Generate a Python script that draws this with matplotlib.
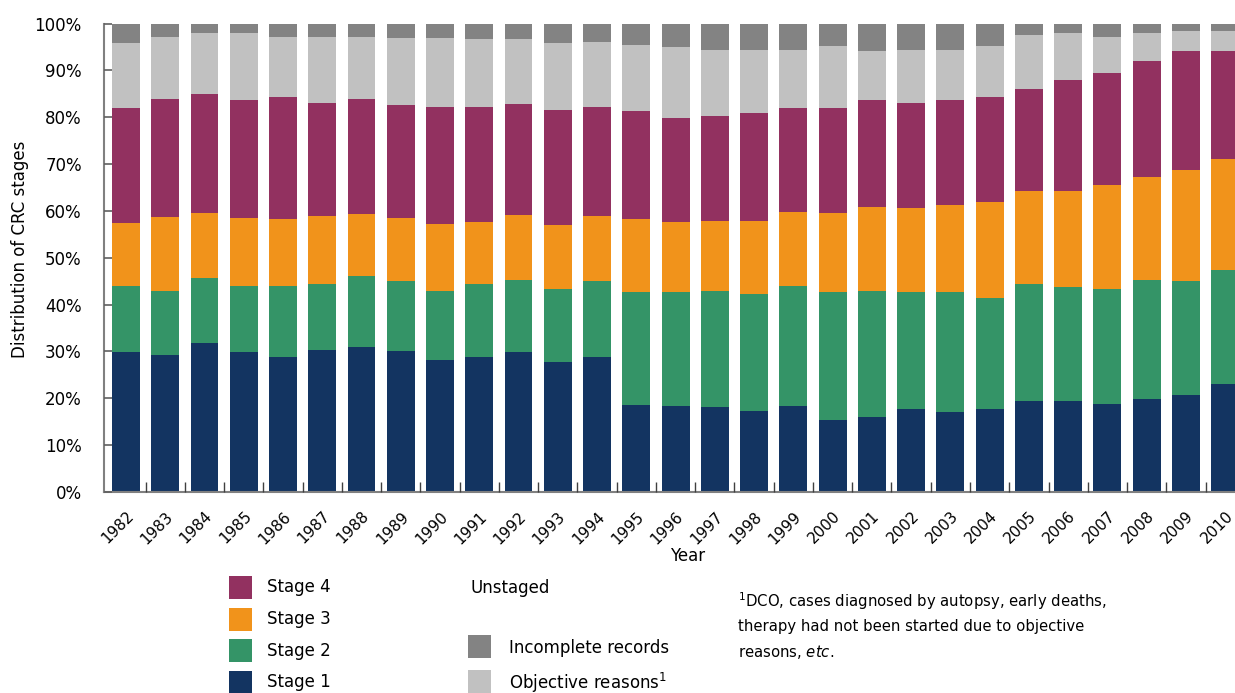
import matplotlib
matplotlib.use("Agg")
import matplotlib.pyplot as plt
from matplotlib.patches import Rectangle
from matplotlib.transforms import ScaledTranslation
import numpy as np

years = [str(y) for y in range(1982, 2011)]

stage1 = [29.8, 29.3, 31.7, 29.8, 28.9, 30.4, 31.0, 30.2, 28.1, 28.9, 29.8, 27.8, 28.9,
          18.6, 18.4, 18.2, 17.3, 18.4, 15.4, 16.1, 17.8, 17.1, 17.8,
          19.5, 19.5, 18.8, 19.9, 20.8, 23.1]
stage2 = [14.1, 13.7, 13.9, 14.1, 15.0, 14.1, 15.0, 14.8, 14.7, 15.4, 15.4, 15.5, 16.1,
          24.0, 24.2, 24.6, 24.9, 25.5, 27.2, 26.7, 24.8, 25.5, 23.7,
          25.0, 24.2, 24.5, 25.3, 24.2, 24.2]
stage3 = [13.5, 15.7, 13.9, 14.6, 14.3, 14.4, 13.3, 13.5, 14.4, 13.3, 13.9, 13.7, 13.9,
          15.6, 15.0, 15.0, 15.6, 15.8, 16.9, 18.0, 18.0, 18.6, 20.4,
          19.7, 20.5, 22.2, 22.0, 23.7, 23.8]
stage4 = [24.6, 25.2, 25.5, 25.2, 26.2, 24.2, 24.6, 24.2, 25.0, 24.6, 23.8, 24.6, 23.3,
          23.2, 22.3, 22.5, 23.1, 22.3, 22.5, 22.9, 22.5, 22.5, 22.5,
          21.9, 23.8, 24.0, 24.7, 25.5, 23.1]
objective = [13.9, 13.3, 12.9, 14.2, 12.8, 14.1, 13.3, 14.1, 14.6, 14.4, 13.7, 14.3, 13.9,
             14.1, 15.0, 14.1, 13.5, 12.4, 13.1, 10.5, 11.3, 10.7, 10.7,
             11.5, 9.9, 7.7, 6.0, 4.3, 4.1]
incomplete = [4.1, 2.8, 2.1, 2.1, 2.8, 2.8, 2.8, 3.2, 3.2, 3.4, 3.4, 4.1, 3.9,
              4.5, 5.1, 5.6, 5.6, 5.6, 4.9, 5.8, 5.6, 5.6, 4.9,
              2.4, 2.1, 2.8, 2.1, 1.5, 1.7]

series = [stage1, stage2, stage3, stage4, objective, incomplete]
colors = ['#133461', '#349467', '#F1931B', '#923160', '#C1C1C1', '#838383']

W, H = 1235, 693
fig = plt.figure(figsize=(W / 100, H / 100), dpi=100)
plt.rcParams['font.family'] = ['DejaVu Sans']

ax = fig.add_axes([104 / W, 1 - 492 / H, (W - 104) / W, (492 - 23.5) / H])
x = np.arange(len(years))
bottom = np.zeros(len(years))
for vals, c in zip(series, colors):
    v = np.array(vals)
    ax.bar(x, v, bottom=bottom, width=0.71, color=c, linewidth=0)
    bottom += v

ax.set_xlim(-0.56, 28.25)
ax.set_ylim(0, 100)
ax.set_yticks(np.arange(0, 101, 10))
ax.set_yticklabels([f"{t}%" for t in range(0, 101, 10)], fontsize=12)
ax.set_xticks(x)
ax.set_xticklabels(years, rotation=45, ha='right', rotation_mode='anchor', fontsize=11)
shift = ScaledTranslation(-4 / 100, 0, fig.dpi_scale_trans)
for lab in ax.get_xticklabels():
    lab.set_transform(lab.get_transform() + shift)
ax.set_xticks(x[:-1] + 0.5, minor=True)
ax.tick_params(axis='x', which='major', length=0, pad=12)
ax.tick_params(axis='x', which='minor', length=7, direction='in', color='#404040', width=1)
ax.tick_params(axis='y', which='major', length=6, direction='in', color='#606060', width=1.2, pad=16)
for s in ['top', 'right']:
    ax.spines[s].set_visible(False)
for s in ['left', 'bottom']:
    ax.spines[s].set_color('#808080')
    ax.spines[s].set_linewidth(1.5)
ax.set_axisbelow(False)

fig.text(20 / W, 1 - 249 / H, 'Distribution of CRC stages', rotation=90,
         ha='center', va='center', fontsize=12)
fig.text(688 / W, 1 - 556 / H, 'Year', ha='center', va='center', fontsize=12)

def patch(x0, y0, w, h, c):
    fig.add_artist(Rectangle((x0 / W, 1 - (y0 + h) / H), w / W, h / H,
                             transform=fig.transFigure, color=c, linewidth=0))

stage_labels = ['Stage 4', 'Stage 3', 'Stage 2', 'Stage 1']
stage_cols = [colors[3], colors[2], colors[1], colors[0]]
for i, (lab, c) in enumerate(zip(stage_labels, stage_cols)):
    y0 = 576 + i * 31.5
    patch(229, y0, 23, 23, c)
    fig.text(267 / W, 1 - (y0 + 11.5) / H, lab, ha='left', va='center', fontsize=12)

fig.text(470 / W, 1 - 588 / H, 'Unstaged', ha='left', va='center', fontsize=12)
patch(468, 635, 23, 23, colors[5])
fig.text(509 / W, 1 - 648 / H, 'Incomplete records', ha='left', va='center', fontsize=12)
patch(468, 670, 23, 23, colors[4])
fig.text(509 / W, 1 - 683 / H, 'Objective reasons$^{1}$', ha='left', va='center', fontsize=12)

fn = ['$^{1}$DCO, cases diagnosed by autopsy, early deaths,',
      'therapy had not been started due to objective',
      'reasons, $\\mathit{etc}$.']
for i, line in enumerate(fn):
    fig.text(738 / W, 1 - (601 + i * 25.5) / H, line, ha='left', va='center', fontsize=10.7)

fig.savefig('out.png', dpi=100)
